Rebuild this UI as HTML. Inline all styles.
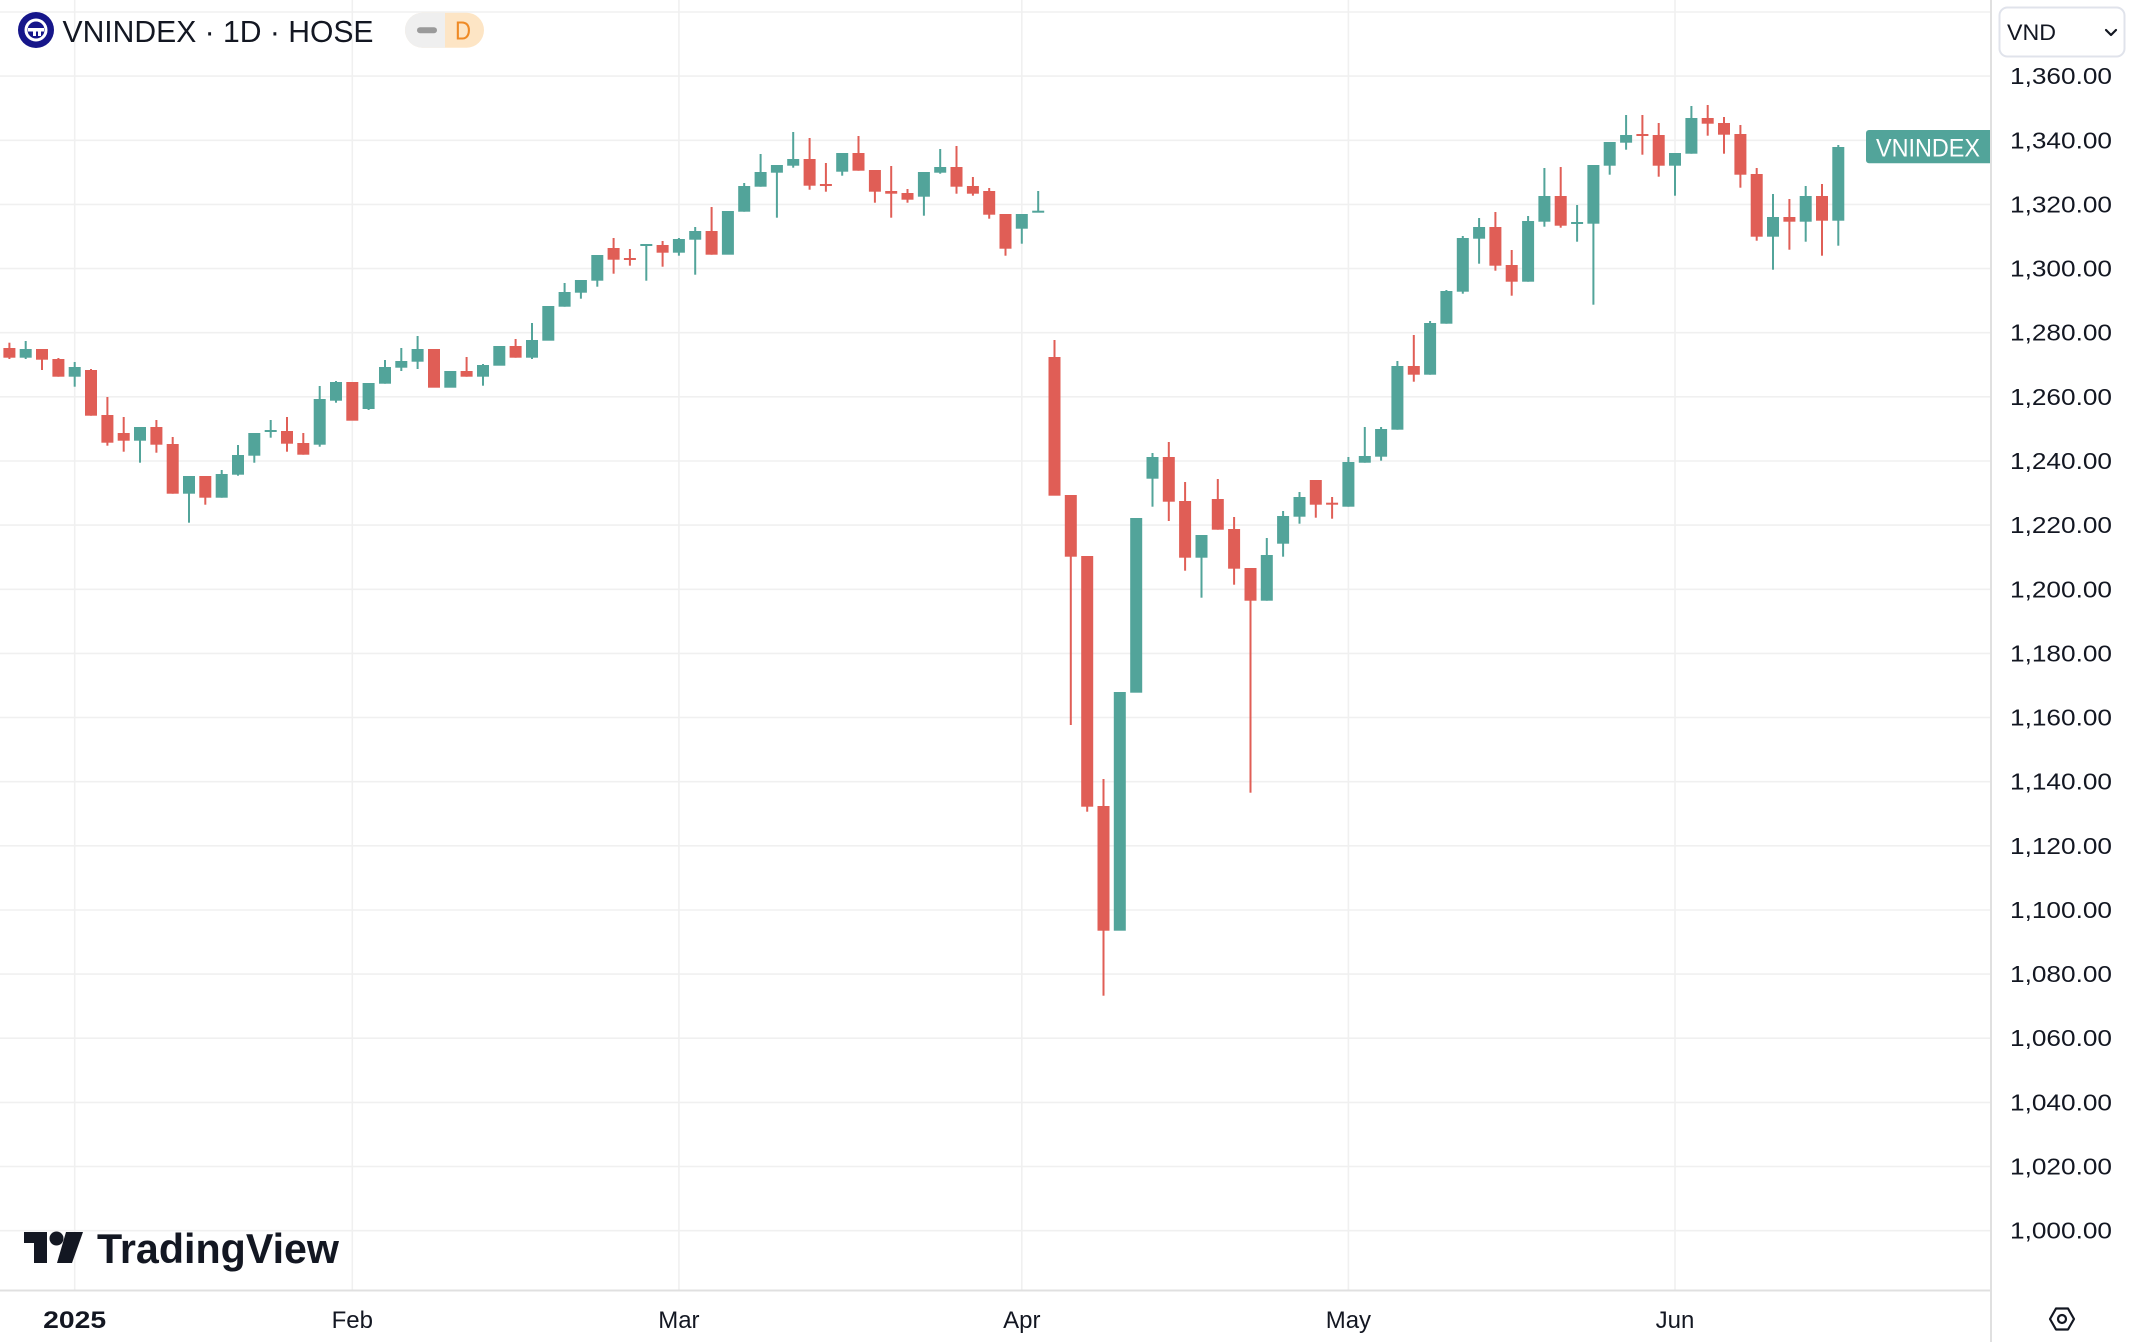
<!DOCTYPE html>
<html>
<head>
<meta charset="utf-8">
<style>
html,body{margin:0;padding:0;background:#fff;}
svg{display:block;}
text{font-family:"Liberation Sans",sans-serif;}
</style>
</head>
<body>
<svg width="2130" height="1342" viewBox="0 0 2130 1342" xmlns="http://www.w3.org/2000/svg">
<rect x="0" y="0" width="2130" height="1342" fill="#ffffff"/>
<!-- horizontal grid -->
<g stroke="#f0f0f0" stroke-width="1.6">
<line x1="0" x2="1990" y1="12" y2="12"/>
<line x1="0" x2="1990" y1="76.1" y2="76.1"/>
<line x1="0" x2="1990" y1="140.3" y2="140.3"/>
<line x1="0" x2="1990" y1="204.4" y2="204.4"/>
<line x1="0" x2="1990" y1="268.6" y2="268.6"/>
<line x1="0" x2="1990" y1="332.7" y2="332.7"/>
<line x1="0" x2="1990" y1="396.8" y2="396.8"/>
<line x1="0" x2="1990" y1="461" y2="461"/>
<line x1="0" x2="1990" y1="525.1" y2="525.1"/>
<line x1="0" x2="1990" y1="589.3" y2="589.3"/>
<line x1="0" x2="1990" y1="653.4" y2="653.4"/>
<line x1="0" x2="1990" y1="717.5" y2="717.5"/>
<line x1="0" x2="1990" y1="781.7" y2="781.7"/>
<line x1="0" x2="1990" y1="845.8" y2="845.8"/>
<line x1="0" x2="1990" y1="910" y2="910"/>
<line x1="0" x2="1990" y1="974.1" y2="974.1"/>
<line x1="0" x2="1990" y1="1038.2" y2="1038.2"/>
<line x1="0" x2="1990" y1="1102.4" y2="1102.4"/>
<line x1="0" x2="1990" y1="1166.5" y2="1166.5"/>
<line x1="0" x2="1990" y1="1230.7" y2="1230.7"/>
</g>
<!-- vertical grid -->
<g stroke="#f0f0f0" stroke-width="1.6">
<line x1="74.7" x2="74.7" y1="0" y2="1290"/>
<line x1="352.3" x2="352.3" y1="0" y2="1290"/>
<line x1="678.9" x2="678.9" y1="0" y2="1290"/>
<line x1="1021.8" x2="1021.8" y1="0" y2="1290"/>
<line x1="1348.4" x2="1348.4" y1="0" y2="1290"/>
<line x1="1675" x2="1675" y1="0" y2="1290"/>
</g>

<!-- red candles -->
<g fill="#e05e56">
<rect x="8.4" y="342.7" width="2" height="16.3"/><rect x="3.4" y="348" width="12" height="9.7"/>
<rect x="41" y="349" width="2" height="21"/><rect x="36" y="349" width="12" height="10.7"/>
<rect x="57.4" y="358" width="2" height="18.7"/><rect x="52.4" y="359" width="12" height="17.7"/>
<rect x="90" y="369" width="2" height="46.7"/><rect x="85" y="370" width="12" height="45.7"/>
<rect x="106.4" y="397" width="2" height="48.7"/><rect x="101.4" y="415" width="12" height="27.7"/>
<rect x="122.7" y="417" width="2" height="34.7"/><rect x="117.7" y="433" width="12" height="7.7"/>
<rect x="155.4" y="420" width="2" height="32.7"/><rect x="150.4" y="427" width="12" height="17.7"/>
<rect x="171.7" y="437" width="2" height="56.7"/><rect x="166.7" y="444" width="12" height="49.7"/>
<rect x="204.3" y="476" width="2" height="28.7"/><rect x="199.3" y="476" width="12" height="21.7"/>
<rect x="286" y="417" width="2" height="34.7"/><rect x="281" y="431" width="12" height="12.7"/>
<rect x="302.3" y="433" width="2" height="21.7"/><rect x="297.3" y="443" width="12" height="11.7"/>
<rect x="346.3" y="382" width="12" height="38.7"/>
<rect x="428" y="349" width="12" height="38.7"/>
<rect x="465.6" y="357" width="2" height="19.7"/><rect x="460.6" y="371" width="12" height="5.7"/>
<rect x="514.6" y="339" width="2" height="18.7"/><rect x="509.6" y="346" width="12" height="11.7"/>
<rect x="612.6" y="238" width="2" height="35.7"/><rect x="607.6" y="248" width="12" height="11.7"/>
<rect x="628.9" y="249" width="2" height="16.7"/><rect x="623.9" y="258" width="12" height="2"/>
<rect x="661.6" y="241" width="2" height="25.7"/><rect x="656.6" y="245" width="12" height="7.7"/>
<rect x="710.6" y="207" width="2" height="47.7"/><rect x="705.6" y="231" width="12" height="23.7"/>
<rect x="808.6" y="138" width="2" height="51.7"/><rect x="803.6" y="159" width="12" height="26.7"/>
<rect x="824.9" y="163" width="2" height="28.7"/><rect x="819.9" y="184" width="12" height="2"/>
<rect x="857.5" y="136" width="2" height="34.7"/><rect x="852.5" y="153" width="12" height="17.7"/>
<rect x="873.9" y="170" width="2" height="32.7"/><rect x="868.9" y="170" width="12" height="21.7"/>
<rect x="890.2" y="166" width="2" height="51.7"/><rect x="885.2" y="191" width="12" height="2.7"/>
<rect x="906.5" y="189" width="2" height="13.7"/><rect x="901.5" y="193" width="12" height="6.7"/>
<rect x="955.5" y="146" width="2" height="47.7"/><rect x="950.5" y="167" width="12" height="19.7"/>
<rect x="971.9" y="177" width="2" height="18.7"/><rect x="966.9" y="186" width="12" height="7.7"/>
<rect x="988.2" y="188" width="2" height="30.7"/><rect x="983.2" y="191" width="12" height="23.7"/>
<rect x="1004.5" y="214" width="2" height="41.7"/><rect x="999.5" y="214" width="12" height="34.7"/>
<rect x="1053.5" y="340" width="2" height="55.7"/><rect x="1048.5" y="357" width="12" height="138.7"/>
<rect x="1069.8" y="495" width="2" height="230"/><rect x="1064.8" y="495" width="12" height="61.7"/>
<rect x="1086.2" y="556" width="2" height="255.7"/><rect x="1081.2" y="556" width="12" height="250.7"/>
<rect x="1102.5" y="779" width="2" height="216.7"/><rect x="1097.5" y="806" width="12" height="124.7"/>
<rect x="1167.8" y="442" width="2" height="79"/><rect x="1162.8" y="457" width="12" height="44.7"/>
<rect x="1184.1" y="482" width="2" height="88.7"/><rect x="1179.1" y="501" width="12" height="56.7"/>
<rect x="1216.8" y="479" width="2" height="50.7"/><rect x="1211.8" y="499" width="12" height="30.7"/>
<rect x="1233.1" y="517" width="2" height="67.7"/><rect x="1228.1" y="529" width="12" height="39.7"/>
<rect x="1249.5" y="568" width="2" height="224.7"/><rect x="1244.5" y="568" width="12" height="32.7"/>
<rect x="1314.8" y="480" width="2" height="37.7"/><rect x="1309.8" y="480" width="12" height="24.7"/>
<rect x="1331.1" y="497" width="2" height="21.7"/><rect x="1326.1" y="502.7" width="12" height="2"/>
<rect x="1412.8" y="335" width="2" height="46.7"/><rect x="1407.8" y="366" width="12" height="8.7"/>
<rect x="1494.4" y="212" width="2" height="58.7"/><rect x="1489.4" y="227" width="12" height="38.7"/>
<rect x="1510.7" y="250" width="2" height="45.7"/><rect x="1505.7" y="265" width="12" height="16.7"/>
<rect x="1559.7" y="167" width="2" height="60.7"/><rect x="1554.7" y="196" width="12" height="29.7"/>
<rect x="1641.4" y="115" width="2" height="39.7"/><rect x="1636.4" y="134" width="12" height="2"/>
<rect x="1657.7" y="123" width="2" height="53.7"/><rect x="1652.7" y="135" width="12" height="30.7"/>
<rect x="1706.7" y="105" width="2" height="30.7"/><rect x="1701.7" y="118" width="12" height="5.7"/>
<rect x="1723" y="117" width="2" height="36.7"/><rect x="1718" y="123" width="12" height="11.7"/>
<rect x="1739.4" y="125" width="2" height="62.7"/><rect x="1734.4" y="134" width="12" height="40.7"/>
<rect x="1755.7" y="168" width="2" height="72.7"/><rect x="1750.7" y="174" width="12" height="62.7"/>
<rect x="1788.4" y="199" width="2" height="50.7"/><rect x="1783.4" y="217" width="12" height="4.7"/>
<rect x="1821" y="184" width="2" height="71.7"/><rect x="1816" y="196" width="12" height="24.7"/>
</g>

<!-- green candles -->
<g fill="#52a49a">
<rect x="24.7" y="341" width="2" height="18"/><rect x="19.7" y="349" width="12" height="8.7"/>
<rect x="73.7" y="362" width="2" height="24.7"/><rect x="68.7" y="367" width="12" height="9.7"/>
<rect x="139" y="427" width="2" height="35.7"/><rect x="134" y="427" width="12" height="13.7"/>
<rect x="188" y="476" width="2" height="46.7"/><rect x="183" y="476" width="12" height="17.7"/>
<rect x="220.7" y="470" width="2" height="27.7"/><rect x="215.7" y="474" width="12" height="23.7"/>
<rect x="237" y="445" width="2" height="30.7"/><rect x="232" y="455" width="12" height="19.7"/>
<rect x="253.3" y="433" width="2" height="29.7"/><rect x="248.3" y="433" width="12" height="22.7"/>
<rect x="269.7" y="420" width="2" height="17.7"/><rect x="264.7" y="430" width="12" height="2"/>
<rect x="318.7" y="386" width="2" height="60.7"/><rect x="313.7" y="399" width="12" height="45.7"/>
<rect x="335" y="381" width="2" height="21.7"/><rect x="330" y="382" width="12" height="18.7"/>
<rect x="367.6" y="383" width="2" height="27"/><rect x="362.6" y="383" width="12" height="26"/>
<rect x="384" y="360" width="2" height="23.7"/><rect x="379" y="367" width="12" height="16.7"/>
<rect x="400.3" y="348" width="2" height="23"/><rect x="395.3" y="361" width="12" height="6.7"/>
<rect x="416.6" y="336" width="2" height="33"/><rect x="411.6" y="349" width="12" height="12.7"/>
<rect x="444.3" y="371" width="12" height="16.7"/>
<rect x="482" y="364" width="2" height="21.7"/><rect x="477" y="365" width="12" height="11.7"/>
<rect x="493.3" y="346" width="12" height="19.7"/>
<rect x="531" y="323" width="2" height="36"/><rect x="526" y="340" width="12" height="17.7"/>
<rect x="542.3" y="306" width="12" height="34.7"/>
<rect x="563.6" y="283" width="2" height="23.7"/><rect x="558.6" y="292" width="12" height="14.7"/>
<rect x="579.9" y="280" width="2" height="18.7"/><rect x="574.9" y="280" width="12" height="12.7"/>
<rect x="596.3" y="255" width="2" height="31.7"/><rect x="591.3" y="255" width="12" height="25.7"/>
<rect x="645.3" y="244" width="2" height="36.7"/><rect x="640.3" y="244" width="12" height="2"/>
<rect x="677.9" y="238" width="2" height="17.7"/><rect x="672.9" y="239" width="12" height="13.7"/>
<rect x="694.2" y="227" width="2" height="47.7"/><rect x="689.2" y="231" width="12" height="8.7"/>
<rect x="721.9" y="211" width="12" height="43.7"/>
<rect x="743.2" y="183" width="2" height="28.7"/><rect x="738.2" y="186" width="12" height="25.7"/>
<rect x="759.6" y="154" width="2" height="32.7"/><rect x="754.6" y="172" width="12" height="14.7"/>
<rect x="775.9" y="165" width="2" height="52.7"/><rect x="770.9" y="165" width="12" height="7.7"/>
<rect x="792.2" y="132" width="2" height="35.7"/><rect x="787.2" y="159" width="12" height="6.7"/>
<rect x="841.2" y="153" width="2" height="22.7"/><rect x="836.2" y="153" width="12" height="18.7"/>
<rect x="922.9" y="172" width="2" height="43.7"/><rect x="917.9" y="172" width="12" height="24.7"/>
<rect x="939.2" y="149" width="2" height="24.7"/><rect x="934.2" y="167" width="12" height="5.7"/>
<rect x="1020.8" y="214" width="2" height="29.7"/><rect x="1015.8" y="214" width="12" height="14.7"/>
<rect x="1037.2" y="191" width="2" height="21.3"/><rect x="1032.2" y="210.7" width="12" height="2"/>
<rect x="1113.8" y="692" width="12" height="238.7"/>
<rect x="1130.2" y="518" width="12" height="174.7"/>
<rect x="1151.5" y="453" width="2" height="53.7"/><rect x="1146.5" y="457" width="12" height="21.7"/>
<rect x="1200.5" y="535" width="2" height="62.7"/><rect x="1195.5" y="535" width="12" height="22.7"/>
<rect x="1265.8" y="538" width="2" height="62.7"/><rect x="1260.8" y="555" width="12" height="45.7"/>
<rect x="1282.1" y="511" width="2" height="45.7"/><rect x="1277.1" y="516" width="12" height="27.7"/>
<rect x="1298.5" y="492" width="2" height="31.7"/><rect x="1293.5" y="497" width="12" height="19.7"/>
<rect x="1347.4" y="457" width="2" height="49.7"/><rect x="1342.4" y="462" width="12" height="44.7"/>
<rect x="1363.8" y="427" width="2" height="35.7"/><rect x="1358.8" y="456" width="12" height="6.7"/>
<rect x="1380.1" y="427" width="2" height="33.7"/><rect x="1375.1" y="429" width="12" height="27.7"/>
<rect x="1396.4" y="361" width="2" height="68.7"/><rect x="1391.4" y="366" width="12" height="63.7"/>
<rect x="1429.1" y="321" width="2" height="53.7"/><rect x="1424.1" y="323" width="12" height="51.7"/>
<rect x="1445.4" y="290" width="2" height="33.7"/><rect x="1440.4" y="291" width="12" height="32.7"/>
<rect x="1461.8" y="236" width="2" height="57.7"/><rect x="1456.8" y="238" width="12" height="53.7"/>
<rect x="1478.1" y="218" width="2" height="45.7"/><rect x="1473.1" y="227" width="12" height="11.7"/>
<rect x="1527.1" y="216" width="2" height="65.7"/><rect x="1522.1" y="221" width="12" height="60.7"/>
<rect x="1543.4" y="168" width="2" height="58.7"/><rect x="1538.4" y="196" width="12" height="25.7"/>
<rect x="1576.1" y="205" width="2" height="36.7"/><rect x="1571.1" y="222" width="12" height="2"/>
<rect x="1592.4" y="165" width="2" height="139.7"/><rect x="1587.4" y="165" width="12" height="58.7"/>
<rect x="1608.7" y="142" width="2" height="32.7"/><rect x="1603.7" y="142" width="12" height="23.7"/>
<rect x="1625.1" y="115" width="2" height="34.7"/><rect x="1620.1" y="135" width="12" height="7.7"/>
<rect x="1674" y="153" width="2" height="42.7"/><rect x="1669" y="153" width="12" height="12.7"/>
<rect x="1690.4" y="106" width="2" height="47.7"/><rect x="1685.4" y="118" width="12" height="35.7"/>
<rect x="1772" y="194" width="2" height="75.7"/><rect x="1767" y="217" width="12" height="19.7"/>
<rect x="1804.7" y="186" width="2" height="55.7"/><rect x="1799.7" y="196" width="12" height="25.7"/>
<rect x="1837.3" y="145" width="2" height="100.7"/><rect x="1832.3" y="147" width="12" height="73.7"/>
</g>

<!-- axis separators -->
<line x1="0" x2="1991" y1="1290.5" y2="1290.5" stroke="#e0e0e0" stroke-width="2"/>
<line x1="1991" x2="1991" y1="0" y2="1342" stroke="#e0e0e0" stroke-width="2"/>

<!-- price labels -->
<g fill="#131722" font-size="23">
<text x="2010" y="84" textLength="102" lengthAdjust="spacingAndGlyphs">1,360.00</text>
<text x="2010" y="148.3" textLength="102" lengthAdjust="spacingAndGlyphs">1,340.00</text>
<text x="2010" y="212.4" textLength="102" lengthAdjust="spacingAndGlyphs">1,320.00</text>
<text x="2010" y="276.6" textLength="102" lengthAdjust="spacingAndGlyphs">1,300.00</text>
<text x="2010" y="340.7" textLength="102" lengthAdjust="spacingAndGlyphs">1,280.00</text>
<text x="2010" y="404.8" textLength="102" lengthAdjust="spacingAndGlyphs">1,260.00</text>
<text x="2010" y="469" textLength="102" lengthAdjust="spacingAndGlyphs">1,240.00</text>
<text x="2010" y="533.1" textLength="102" lengthAdjust="spacingAndGlyphs">1,220.00</text>
<text x="2010" y="597.3" textLength="102" lengthAdjust="spacingAndGlyphs">1,200.00</text>
<text x="2010" y="661.4" textLength="102" lengthAdjust="spacingAndGlyphs">1,180.00</text>
<text x="2010" y="725.5" textLength="102" lengthAdjust="spacingAndGlyphs">1,160.00</text>
<text x="2010" y="789.7" textLength="102" lengthAdjust="spacingAndGlyphs">1,140.00</text>
<text x="2010" y="853.8" textLength="102" lengthAdjust="spacingAndGlyphs">1,120.00</text>
<text x="2010" y="918" textLength="102" lengthAdjust="spacingAndGlyphs">1,100.00</text>
<text x="2010" y="982.1" textLength="102" lengthAdjust="spacingAndGlyphs">1,080.00</text>
<text x="2010" y="1046.2" textLength="102" lengthAdjust="spacingAndGlyphs">1,060.00</text>
<text x="2010" y="1110.4" textLength="102" lengthAdjust="spacingAndGlyphs">1,040.00</text>
<text x="2010" y="1174.5" textLength="102" lengthAdjust="spacingAndGlyphs">1,020.00</text>
<text x="2010" y="1238.7" textLength="102" lengthAdjust="spacingAndGlyphs">1,000.00</text>
</g>

<!-- VND dropdown -->
<rect x="1999.5" y="7.5" width="125" height="49" rx="8" fill="#fff" stroke="#e0e3eb" stroke-width="2"/>
<text x="2007" y="40" font-size="22" fill="#131722" textLength="49" lengthAdjust="spacingAndGlyphs">VND</text>
<polyline points="2106,30 2111,35 2116,30" fill="none" stroke="#131722" stroke-width="2.2" stroke-linecap="round" stroke-linejoin="round"/>

<!-- last price tag -->
<path d="M1869 130 H1990 V163.3 H1869 A3 3 0 0 1 1866 160.3 V133 A3 3 0 0 1 1869 130 Z" fill="#52a49a"/>
<text x="1876" y="156.5" font-size="25" fill="#ffffff" textLength="104" lengthAdjust="spacingAndGlyphs">VNINDEX</text>

<!-- time labels -->
<g fill="#131722" font-size="24" text-anchor="middle">
<text x="74.7" y="1328" font-weight="bold" textLength="63" lengthAdjust="spacingAndGlyphs">2025</text>
<text x="352.3" y="1328">Feb</text>
<text x="678.9" y="1328">Mar</text>
<text x="1021.8" y="1328">Apr</text>
<text x="1348.4" y="1328">May</text>
<text x="1675" y="1328">Jun</text>
</g>

<!-- settings icon -->
<polygon points="2050,1319 2056,1308.5 2068,1308.5 2074,1319 2068,1329.5 2056,1329.5" fill="none" stroke="#131722" stroke-width="2.2" stroke-linejoin="round"/>
<circle cx="2062" cy="1319" r="4" fill="none" stroke="#131722" stroke-width="2.2"/>

<!-- header -->
<circle cx="36" cy="30" r="18" fill="#16168a"/>
<circle cx="36" cy="30" r="10" fill="none" stroke="#ffffff" stroke-width="3"/>
<rect x="28" y="28" width="16" height="3.5" fill="#ffffff"/>
<rect x="33" y="28" width="3" height="8" fill="#ffffff"/>
<rect x="38" y="28" width="3" height="8" fill="#ffffff"/>
<text x="62.5" y="42" font-size="31" fill="#131722" textLength="311" lengthAdjust="spacingAndGlyphs">VNINDEX · 1D · HOSE</text>
<rect x="405" y="12.7" width="79" height="35" rx="17.5" fill="#fde5c5"/>
<path d="M445 12.7 H422.5 A17.5 17.5 0 0 0 422.5 47.7 H445 Z" fill="#efefef"/>
<rect x="417" y="27.2" width="20" height="6" rx="3" fill="#9a9a9a"/>
<text x="455" y="39.5" font-size="26" fill="#ef8a25" textLength="16" lengthAdjust="spacingAndGlyphs">D</text>

<!-- TradingView watermark -->
<g fill="#131722">
<path d="M24 1232 H47 V1263 H34 V1243 H24 Z"/>
<circle cx="56.5" cy="1238.5" r="7"/>
<path d="M66 1232 H83 L72 1263 H57 Z"/>
</g>
<text x="97" y="1263" font-size="42" font-weight="bold" fill="#131722" textLength="242" lengthAdjust="spacingAndGlyphs">TradingView</text>
</svg>
</body>
</html>
